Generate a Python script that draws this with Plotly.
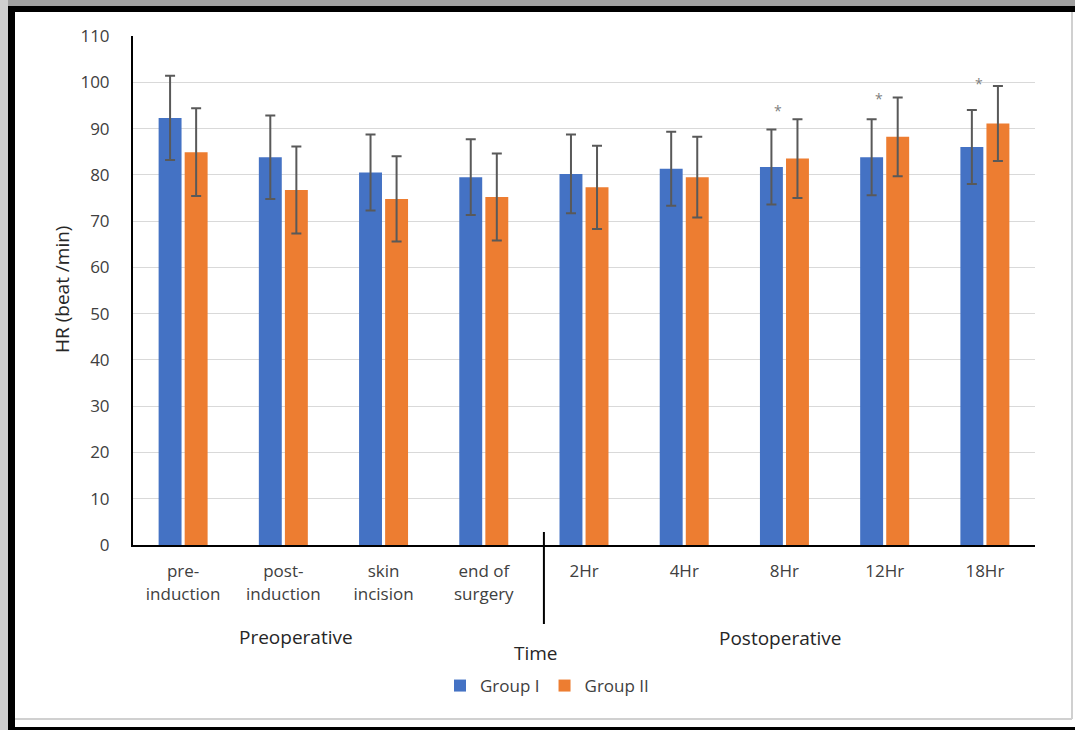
import plotly.graph_objects as go

categories = ["pre-<br>induction", "post-<br>induction", "skin<br>incision", "end of<br>surgery",
              "2Hr", "4Hr", "8Hr", "12Hr", "18Hr"]
group1_mean = [92.3, 83.8, 80.5, 79.5, 80.2, 81.3, 81.7, 83.8, 86.0]
group1_sd = [9.1, 9.0, 8.2, 8.2, 8.5, 8.0, 8.1, 8.2, 8.0]
group2_mean = [84.9, 76.7, 74.8, 75.2, 77.3, 79.5, 83.5, 88.2, 91.1]
group2_sd = [9.5, 9.4, 9.2, 9.4, 9.0, 8.7, 8.5, 8.5, 8.1]
sig_categories = ["8Hr", "12Hr", "18Hr"]
sig_y = [94.4, 97.0, 100.1]
y_ticks = list(range(0, 111, 10))

BLUE = "#4472C4"
ORANGE = "#ED7D31"
ERR = "#595959"
FONT = "Open Sans"

W_FIG, H_FIG = 1075, 730
L, R, T, B = 133, 1035, 36, 545
PW, PH = R - L, B - T


def px(x):
    return (x - L) / PW


def py(y):
    return (B - y) / PH


fig = go.Figure()
fig.add_trace(go.Bar(
    name="Group I", x=categories, y=group1_mean, marker_color=BLUE,
    marker_line_width=0,
    error_y=dict(type="data", array=group1_sd, visible=True, color=ERR, thickness=2, width=5),
))
fig.add_trace(go.Bar(
    name="Group II", x=categories, y=group2_mean, marker_color=ORANGE,
    marker_line_width=0,
    error_y=dict(type="data", array=group2_sd, visible=True, color=ERR, thickness=2, width=5),
))

annotations = []
for c, yv in zip(sig_categories, sig_y):
    annotations.append(dict(x=c, y=yv, xref="x", yref="y", text="*", showarrow=False,
                            xshift=-6, yshift=-2, yanchor="middle",
                            font=dict(family=FONT, size=14, color="#7f7f7f")))

annotations += [
    dict(x=px(296), y=py(637), xref="paper", yref="paper", text="Preoperative", showarrow=False,
         xanchor="center", yanchor="middle", font=dict(family=FONT, size=19, color="#262626")),
    dict(x=px(780), y=py(638), xref="paper", yref="paper", text="Postoperative", showarrow=False,
         xanchor="center", yanchor="middle", font=dict(family=FONT, size=19, color="#262626")),
    dict(x=px(536), y=py(653), xref="paper", yref="paper", text="Time", showarrow=False,
         xanchor="center", yanchor="middle", font=dict(family=FONT, size=19, color="#262626")),
    dict(x=px(62), y=py(290), xref="paper", yref="paper", text="HR (beat /min)", showarrow=False,
         textangle=-90, xanchor="center", yanchor="middle",
         font=dict(family=FONT, size=19, color="#262626")),
]

shapes = [
    # outer frame
    dict(type="rect", xref="paper", yref="paper", x0=px(0), x1=px(W_FIG), y0=py(0), y1=py(6),
         fillcolor="#a0a0a0", line_width=0, layer="below"),
    dict(type="rect", xref="paper", yref="paper", x0=px(0), x1=px(8), y0=py(0), y1=py(H_FIG),
         fillcolor="#cfcfcf", line_width=0, layer="below"),
    dict(type="rect", xref="paper", yref="paper", x0=px(8), x1=px(W_FIG), y0=py(6), y1=py(12),
         fillcolor="black", line_width=0, layer="below"),
    dict(type="rect", xref="paper", yref="paper", x0=px(8), x1=px(15), y0=py(6), y1=py(H_FIG),
         fillcolor="black", line_width=0, layer="below"),
    dict(type="rect", xref="paper", yref="paper", x0=px(8), x1=px(W_FIG), y0=py(727), y1=py(H_FIG),
         fillcolor="black", line_width=0, layer="below"),
    dict(type="line", xref="paper", yref="paper", x0=px(1072), x1=px(1072), y0=py(12), y1=py(719),
         line=dict(color="#d0d0d0", width=2), layer="below"),
    dict(type="line", xref="paper", yref="paper", x0=px(15), x1=px(1072), y0=py(719), y1=py(719),
         line=dict(color="#d0d0d0", width=2), layer="below"),
    # separator between pre- and postoperative
    dict(type="line", xref="x", yref="paper", x0=3.6, x1=3.6, y0=py(532), y1=py(624),
         line=dict(color="black", width=2)),
]

fig.update_layout(
    width=W_FIG, height=H_FIG,
    margin=dict(l=L, r=W_FIG - R, t=T, b=H_FIG - B, pad=0),
    paper_bgcolor="white", plot_bgcolor="white",
    barmode="group", bargap=0.48, bargroupgap=0.12,
    showlegend=True,
    legend=dict(orientation="h", x=px(547), y=py(686), xanchor="center", yanchor="middle",
                font=dict(family=FONT, size=17, color="#404040"), traceorder="normal",
                bgcolor="rgba(0,0,0,0)"),
    annotations=annotations,
    shapes=shapes,
    font=dict(family=FONT),
)
fig.update_xaxes(
    showline=True, linecolor="black", linewidth=2, showgrid=False, ticks="",
    tickfont=dict(family=FONT, size=17, color="#404040"), ticklabelstandoff=10,
    tickangle=0,
)
fig.update_yaxes(
    range=[0, 110], tickvals=y_ticks, showline=True, linecolor="black", linewidth=2,
    showgrid=True, gridcolor="#d9d9d9", gridwidth=1, zeroline=False, ticks="",
    tickfont=dict(family=FONT, size=17, color="#404040"), ticklabelstandoff=18,
)

fig.write_html("out.html", config={"displayModeBar": False},
               post_script="document.body.style.margin='0';")
